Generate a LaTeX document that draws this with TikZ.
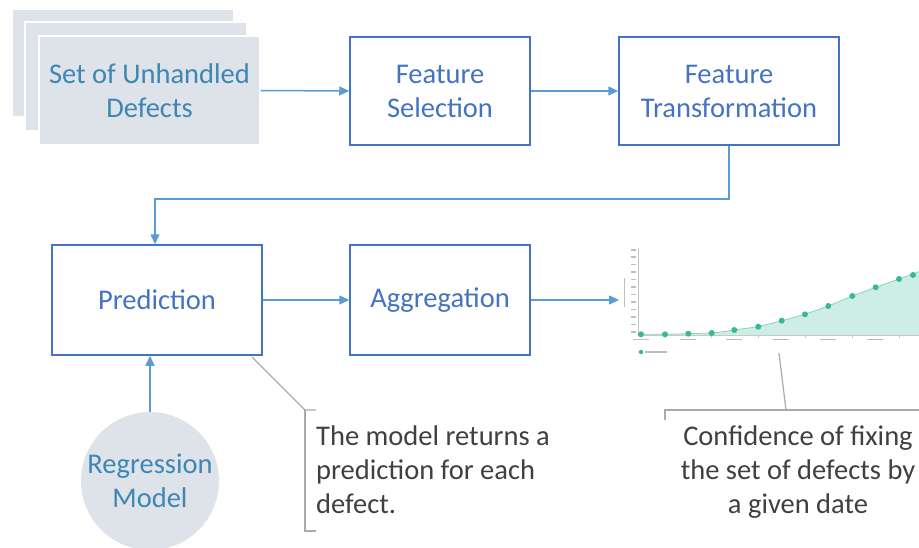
\documentclass[tikz,border=0pt]{standalone}
\usepackage{fontspec}
\setmainfont{Carlito}
\usetikzlibrary{arrows.meta,calc}
\definecolor{boxline}{RGB}{68,114,196}
\definecolor{boxtext}{RGB}{68,114,196}
\definecolor{arrowc}{RGB}{91,155,213}
\definecolor{stackfill}{RGB}{221,227,232}
\definecolor{stacktext}{RGB}{62,134,181}
\definecolor{calltext}{RGB}{64,64,64}
\definecolor{callline}{RGB}{170,170,170}
\definecolor{areafill}{RGB}{206,238,229}
\definecolor{dotc}{RGB}{55,185,150}
\definecolor{axisc}{RGB}{200,200,200}
\definecolor{lblc}{RGB}{190,190,190}
\begin{document}
\begin{tikzpicture}[x=1pt,y=-1pt,
  txt/.style={font=\fontsize{28.5}{34}\selectfont,align=center},
  procbox/.style={draw=boxline,line width=1.5pt,fill=white,text=boxtext,txt,inner sep=0pt},
  stackbox/.style={fill=stackfill,draw=white,line width=1.5pt,text=stacktext,txt,inner sep=0pt},
  arr/.style={draw=arrowc,line width=1.5pt,-{Triangle[length=10pt,width=9pt]}},
  callout/.style={draw=callline,line width=1.2pt},
  note/.style={font=\fontsize{28.5}{34}\selectfont,text=calltext,inner sep=0pt},
  lbl/.style={fill=lblc,draw=none},
  dot/.style={circle,fill=dotc,inner sep=0pt,minimum size=6pt}
]
\useasboundingbox (0,0) rectangle (919,547);
% stacked defects
\node[stackbox,minimum width=222pt,minimum height=108pt] (back) at (123,63) {};
\node[stackbox,minimum width=222pt,minimum height=109pt] (mid) at (136,76.5) {};
\node[stackbox,minimum width=221pt,minimum height=109pt] (defects) at (149.5,90.5) {Set of Unhandled\\Defects};
% process boxes
\node[procbox,minimum width=180pt,minimum height=108pt] (fs) at (440,91) {Feature\\Selection};
\node[procbox,minimum width=220pt,minimum height=108pt] (ft) at (729,91) {Feature\\Transformation};
\node[procbox,minimum width=210pt,minimum height=110pt] (pred) at (157,300) {Prediction};
\node[procbox,minimum width=180pt,minimum height=110pt] (agg) at (440,300) {Aggregation};
\node[circle,fill=stackfill,minimum size=138pt,inner sep=0pt,text=stacktext,txt] (rm) at (150,481) {Regression\\Model};
% chart
\fill[areafill] (641,335) -- (641,334.3) -- (665,334.3) -- (688.3,333.7) -- (711.7,333)
  .. controls (722,332) and (728,331) .. (734.3,330)
  .. controls (744,328.5) and (750,328) .. (758.3,326.7)
  .. controls (768,324) and (774,323) .. (781.7,320.7)
  -- (805,314.3) -- (828.3,306) -- (852.3,296) -- (875.7,287.3) -- (899,279) -- (919,271.7) -- (919,335) -- cycle;
\draw[dotc!60!white,line width=0.8pt] (641,334.3) -- (665,334.3) -- (688.3,333.7) -- (711.7,333)
  .. controls (722,332) and (728,331) .. (734.3,330)
  .. controls (744,328.5) and (750,328) .. (758.3,326.7)
  .. controls (768,324) and (774,323) .. (781.7,320.7)
  -- (805,314.3) -- (828.3,306) -- (852.3,296) -- (875.7,287.3) -- (899,279) -- (919,271.7);
\draw[axisc,line width=0.6pt] (638,249) -- (638,335) -- (919,335);
\foreach \yy in {250,257,264.5,272,279.5,287,294.5,302,309.5,317,324.5,332}
  \fill[lblc] (631,\yy-0.7) rectangle (636,\yy+0.7);
\fill[lblc] (623.5,278) rectangle (625,307);
\foreach \xx in {641,688,734,781,828,875}
  \fill[lblc] (\xx-8,338.5) rectangle (\xx+8,340);
\foreach \xx in {665,711,758,805,852,899}
  \draw[axisc,line width=0.6pt] (\xx,335) -- (\xx,338);
\foreach \px/\py in {641/334.3,665/334.3,688.3/333.7,711.7/333,734.3/330,758.3/326.7,781.7/320.7,805/314.3,828.3/306,852.3/296,875.7/287.3,899/279,913/275}
  \node[dot] at (\px,\py) {};
\node[dot,minimum size=4.5pt] (legdot) at (641,352) {};
\fill[lblc] (645,351.3) rectangle (667,352.7);
\coordinate (chart) at (619,300);
\coordinate (chartpt) at (779,353);
% connectors
\draw[arr] (defects.east) -- (fs.west);
\draw[arr] (fs.east) -- (ft.west);
\draw[arr] (ft.south) -- ++(0,53) -| ($(pred.north)+(-2,0)$);
\draw[arr] (pred.east) -- (agg.west);
\draw[arr] (agg.east) -- (chart);
\draw[arr] (rm.north) -- (rm.north |- pred.south);
% callout 1
\coordinate (c1a) at (252,357);
\coordinate (c1b) at (305,410);
\coordinate (c1c) at (305,531);
\draw[callout] (c1a) -- (c1b) -- ++(11,0);
\draw[callout] (c1b) -- (c1c) -- ++(11,0);
\node[note,anchor=north west,align=left] (note1) at (316,426) {The model returns a\\prediction for each\\defect.};
% callout 2
\coordinate (c2b) at (786,410);
\draw[callout] (chartpt) -- (c2b);
\draw[callout] (665,420) -- (665,410) -- (919,410);
\node[note,anchor=north,align=center] (note2) at (798,426) {Confidence of fixing\\the set of defects by\\a given date};
\end{tikzpicture}
\end{document}
